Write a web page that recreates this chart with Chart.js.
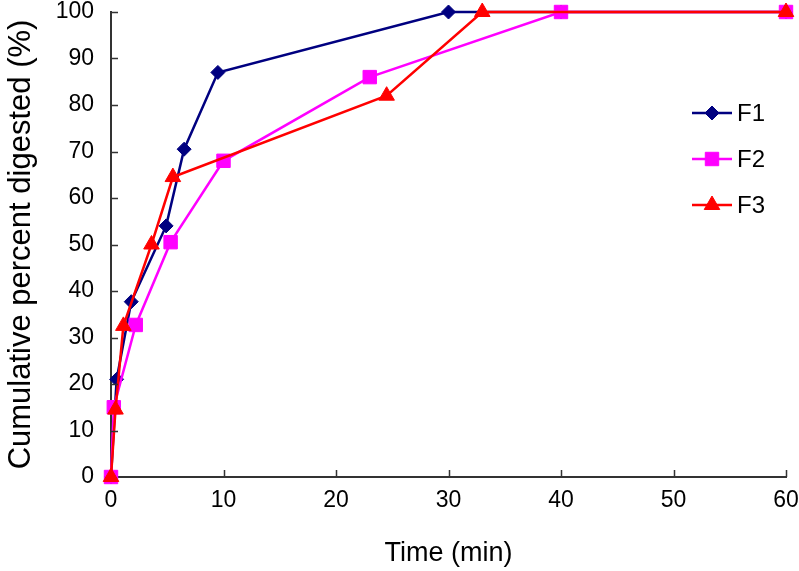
<!DOCTYPE html>
<html>
<head>
<meta charset="utf-8">
<script src="https://cdn.jsdelivr.net/npm/chart.js@4/dist/chart.umd.min.js"></script>
<style>
  html, body { margin: 0; padding: 0; background: #fff; }
  #wrap { width: 799px; height: 571px; }
</style>
</head>
<body>
<div id="wrap"><canvas id="chart" width="799" height="571"></canvas></div>
<script>
// --- DATA ---
const seriesNames = ['F1', 'F2', 'F3'];
const timeF1 = [0, 0.5, 1.8, 4.9, 6.5, 9.5, 30, 40, 60];
const pctF1  = [0, 21, 37.7, 54, 70.5, 87, 100, 100, 100];
const timeF2 = [0, 0.25, 2.2, 5.3, 10, 23, 40, 60];
const pctF2  = [0, 15, 32.7, 50.5, 68, 86, 100, 100];
const timeF3 = [0, 0.4, 1.1, 3.6, 5.5, 24.5, 33, 60];
const pctF3  = [0, 14.5, 32.5, 50, 64.5, 82, 100, 100];
const xTicks = [0, 10, 20, 30, 40, 50, 60];
const yTicks = [0, 10, 20, 30, 40, 50, 60, 70, 80, 90, 100];

const FONT = "'Liberation Sans', Arial, sans-serif";
const axisColor = '#333';

const toPoints = (xs, ys) => xs.map((x, i) => ({ x: x, y: ys[i] }));

function makeSet(name, xs, ys, color, style, radius, order) {
    return {
        label: name,
        data: toPoints(xs, ys),
        showLine: true,
        borderColor: color,
        backgroundColor: color,
        borderWidth: 2.5,
        pointStyle: style,
        pointRadius: radius,
        pointBorderWidth: 1,
        pointBorderColor: color,
        pointBackgroundColor: color,
        clip: false,
        order: order
    };
}

// inward tick marks on both axes
const innerTicks = {
    id: 'innerTicks',
    afterDraw(chart) {
        const ctx = chart.ctx;
        const xs = chart.scales.x, ys = chart.scales.y;
        ctx.save();
        ctx.strokeStyle = axisColor;
        ctx.lineWidth = 1.5;
        ctx.beginPath();
        yTicks.forEach(v => {
            if (v === 0) return;
            const py = Math.round(ys.getPixelForValue(v)) + 0.5;
            ctx.moveTo(xs.left, py);
            ctx.lineTo(xs.left + 7, py);
        });
        xTicks.forEach(v => {
            if (v === 0) return;
            const px = Math.round(xs.getPixelForValue(v)) + 0.5;
            ctx.moveTo(px, ys.bottom);
            ctx.lineTo(px, ys.bottom - 7);
        });
        ctx.stroke();
        ctx.restore();
    }
};

// legend: line + marker + label, on the right side
const sideLegend = {
    id: 'sideLegend',
    afterDraw(chart) {
        const ctx = chart.ctx;
        const x0 = 692, x1 = 732, tx = 737;
        const rows = [113, 159, 205];
        ctx.save();
        chart.data.datasets.forEach((ds, i) => {
            const y = rows[i];
            ctx.strokeStyle = ds.borderColor;
            ctx.lineWidth = ds.borderWidth;
            ctx.beginPath();
            ctx.moveTo(x0, y);
            ctx.lineTo(x1, y);
            ctx.stroke();
            ctx.fillStyle = ds.pointBackgroundColor;
            ctx.strokeStyle = ds.pointBorderColor;
            ctx.lineWidth = 1;
            Chart.helpers.drawPoint(ctx, { pointStyle: ds.pointStyle, radius: ds.pointRadius, borderWidth: 1, rotation: 0 }, (x0 + x1) / 2, y);
            ctx.fillStyle = '#000';
            ctx.font = '24px ' + FONT;
            ctx.textBaseline = 'middle';
            ctx.textAlign = 'left';
            ctx.fillText(ds.label, tx, y + 1);
        });
        ctx.restore();
    }
};

new Chart(document.getElementById('chart').getContext('2d'), {
    type: 'scatter',
    data: {
        datasets: [
            makeSet(seriesNames[0], timeF1, pctF1, '#000080', 'rectRot', 7, 3),
            makeSet(seriesNames[1], timeF2, pctF2, '#FF00FF', 'rect', 9.5, 2),
            makeSet(seriesNames[2], timeF3, pctF3, '#FF0000', 'triangle', 9, 1)
        ]
    },
    options: {
        responsive: false,
        animation: false,
        layout: { padding: { top: 12, right: 13, left: 0, bottom: 0 } },
        plugins: { legend: { display: false }, tooltip: { enabled: false } },
        scales: {
            x: {
                type: 'linear', min: 0, max: 60,
                afterFit: s => { s.height = 94; s.paddingLeft = 0; s.paddingRight = 0; },
                afterBuildTicks: s => { s.ticks = xTicks.map(v => ({ value: v })); },
                grid: { display: true, drawOnChartArea: false, drawTicks: false },
                border: { display: true, color: axisColor, width: 2 },
                ticks: { color: '#000', padding: 10, font: { family: FONT, size: 23 } },
                title: { display: true, text: 'Time (min)', color: '#000', font: { family: FONT, size: 27 }, padding: { top: 0, bottom: 1.5 } }
            },
            y: {
                type: 'linear', min: 0, max: 100,
                afterFit: s => { s.width = 111; s.paddingTop = 0; s.paddingBottom = 0; },
                afterBuildTicks: s => { s.ticks = yTicks.map(v => ({ value: v })); },
                grid: { display: true, drawOnChartArea: false, drawTicks: false },
                border: { display: true, color: axisColor, width: 2 },
                ticks: { color: '#000', padding: 17, font: { family: FONT, size: 23 } },
                title: { display: true, text: 'Cumulative percent digested (%)', color: '#000', font: { family: FONT, size: 31 }, padding: { top: 3, bottom: 0 } }
            }
        }
    },
    plugins: [innerTicks, sideLegend]
});
</script>
</body>
</html>
